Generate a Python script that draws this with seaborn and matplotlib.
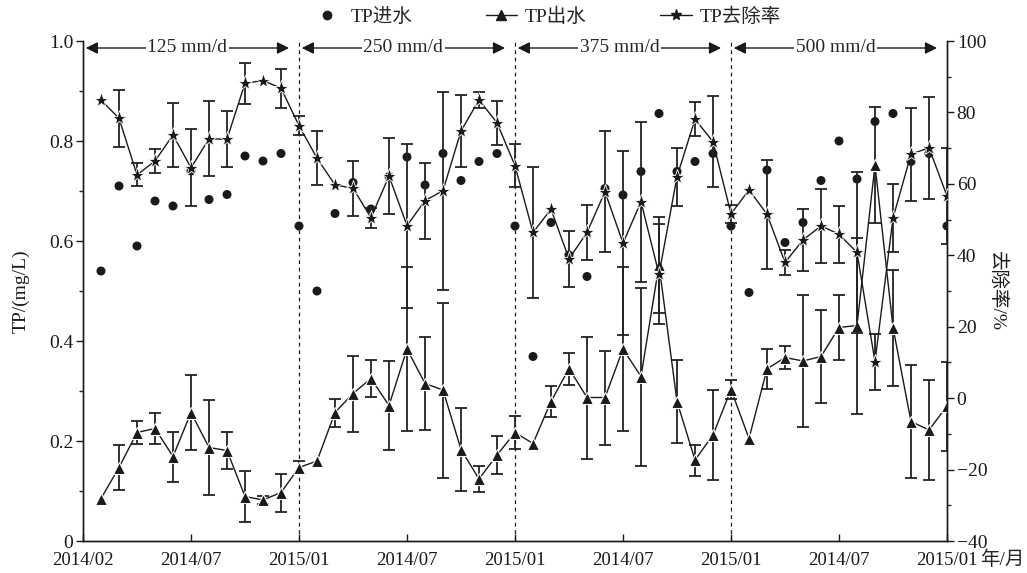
import numpy as np
import pandas as pd
import matplotlib
matplotlib.use("Agg")
import matplotlib.pyplot as plt
from matplotlib.lines import Line2D
from matplotlib.ticker import MultipleLocator
import seaborn as sns

# ---------------- data ----------------
months = list(range(1, 49))
phase_labels = ["125 mm/d", "250 mm/d", "375 mm/d", "500 mm/d"]
tick_pos = [0, 6, 12, 18, 24, 30, 36, 42, 48]
tick_labels = ["2014/02", "2014/07", "2015/01", "2014/07", "2015/01",
               "2014/07", "2015/01", "2014/07", "2015/01"]

tp_in = [0.54, 0.71, 0.59, 0.68, 0.67, 0.74, 0.683, 0.693, 0.77, 0.76, 0.775, 0.63,
         0.50, 0.655, 0.717, 0.664, 0.729, 0.768, 0.712, 0.775, 0.721, 0.759, 0.775, 0.63,
         0.369, 0.637, 0.572, 0.529, 0.705, 0.692, 0.739, 0.855, 0.739, 0.759, 0.775, 0.63,
         0.497, 0.742, 0.597, 0.637, 0.721, 0.80, 0.724, 0.839, 0.855, 0.759, 0.775, 0.63]

tp_out = [0.085, 0.147, 0.217, 0.225, 0.169, 0.257, 0.187, 0.181, 0.089, 0.082, 0.097, 0.147,
          0.160, 0.257, 0.295, 0.325, 0.271, 0.384, 0.315, 0.302, 0.183, 0.124, 0.172, 0.217,
          0.195, 0.279, 0.345, 0.287, 0.287, 0.384, 0.329, 0.552, 0.279, 0.162, 0.212, 0.303,
          0.205, 0.344, 0.367, 0.360, 0.369, 0.427, 0.431, 0.752, 0.427, 0.239, 0.222, 0.270]

tp_out_err = [0, 0.045, 0.023, 0.031, 0.05, 0.075, 0.095, 0.037, 0.051, 0.008, 0.038, 0.013,
              0, 0.028, 0.076, 0.037, 0.089, 0.164, 0.093, 0.175, 0.083, 0.026, 0.038, 0.033,
              0, 0.031, 0.032, 0.122, 0.094, 0.164, 0.178, 0.096, 0.083, 0.031, 0.09, 0.019,
              0, 0.04, 0.023, 0.132, 0.093, 0.065, 0.176, 0.116, 0.116, 0.113, 0.10, 0.089]

removal = [83.4, 78.4, 62.5, 66.4, 73.7, 64.5, 72.6, 72.5, 88.2, 88.9, 86.8, 76.3,
           67.2, 59.7, 58.8, 50.5, 62.2, 48.3, 55.3, 58.1, 74.8, 83.5, 77.1, 65.1,
           46.4, 52.9, 39.0, 46.4, 57.8, 43.4, 55.0, 34.7, 62.0, 78.1, 71.8, 51.6,
           58.3, 51.5, 38.0, 44.3, 48.2, 45.9, 40.8, 10.2, 50.4, 68.3, 70.1, 56.6]

removal_err = [0, 8.0, 3.2, 3.4, 9.0, 10.8, 10.5, 7.8, 5.7, 0, 5.5, 2.7,
               7.5, 0, 7.7, 2.8, 10.7, 23.0, 10.6, 27.7, 10.0, 2.2, 6.1, 6.0,
               18.4, 0, 7.9, 7.8, 16.9, 25.8, 22.4, 14.0, 8.1, 4.8, 12.8, 2.5,
               0, 15.2, 3.4, 8.6, 10.3, 8.0, 22.6, 7.8, 9.5, 13.0, 14.2, 13.5]

df = pd.DataFrame({"month": months, "tp_in": tp_in, "tp_out": tp_out,
                   "tp_out_err": tp_out_err, "removal": removal,
                   "removal_err": removal_err})

# ---------------- style ----------------
sns.set_theme(style="ticks")
plt.rcParams["font.family"] = ["Liberation Serif", "Noto Sans CJK SC"]
plt.rcParams["axes.unicode_minus"] = True
plt.rcParams["axes.linewidth"] = 1.0
FS = 14
XFS = 13.5

fig = plt.figure(figsize=(10.27, 5.73), dpi=100)
ax = fig.add_axes([83 / 1027, 32 / 573, 864 / 1027, 500 / 573])
ax2 = ax.twinx()

# phase separators
for xv in [12, 24, 36]:
    ax.axvline(xv, color="k", ls=(0, (3, 3)), lw=0.9, zorder=1)

# TP inflow (points)
sns.scatterplot(data=df, x="month", y="tp_in", ax=ax, color="k", marker="o",
                s=42, edgecolor="none", zorder=4, legend=False)

# TP outflow (line + error bars)
m_out = df[df.tp_out_err > 0]
ax.errorbar(m_out.month, m_out.tp_out, yerr=m_out.tp_out_err, fmt="none",
            ecolor="#222222", elinewidth=1.3, capsize=4, capthick=1.3, zorder=3)
sns.lineplot(data=df, x="month", y="tp_out", ax=ax, color="k", lw=1.0,
             marker="^", markersize=9, markeredgecolor="white",
             markeredgewidth=0.8, zorder=5, legend=False)

# removal rate (right axis)
m_rem = df[df.removal_err > 0]
ax2.errorbar(m_rem.month, m_rem.removal, yerr=m_rem.removal_err, fmt="none",
             ecolor="#222222", elinewidth=1.3, capsize=4, capthick=1.3, zorder=3)
sns.lineplot(data=df, x="month", y="removal", ax=ax2, color="k", lw=1.0,
             marker="*", markersize=11, markeredgecolor="white",
             markeredgewidth=0.6, zorder=5, legend=False)

# axes limits / ticks
ax.set_xlim(0, 48)
ax.set_ylim(0, 1.0)
ax2.set_ylim(-40, 100)
ax.set_xticks(tick_pos)
ax.set_xticklabels(tick_labels, fontsize=XFS)
ax.set_yticks([0, 0.2, 0.4, 0.6, 0.8, 1.0])
ax.set_yticklabels(["0", "0.2", "0.4", "0.6", "0.8", "1.0"], fontsize=FS)
ax.yaxis.set_minor_locator(MultipleLocator(0.1))
ax2.set_yticks(range(-40, 101, 20))
ax2.set_yticklabels([f"{v}".replace("-", "\u2212") for v in range(-40, 101, 20)],
                    fontsize=FS)
ax2.yaxis.set_minor_locator(MultipleLocator(10))

ax.tick_params(axis="x", direction="in", length=5, width=1, pad=8, colors="k")
ax.tick_params(axis="y", which="major", direction="out", length=5, width=1, pad=2, colors="k")
ax.tick_params(axis="y", which="minor", direction="out", length=3, width=1)
ax2.tick_params(axis="y", which="major", direction="out", length=5, width=1, pad=2, colors="k")
ax2.tick_params(axis="y", which="minor", direction="out", length=3, width=1)

for a in (ax, ax2):
    a.spines["top"].set_visible(False)
    for s in ("left", "right", "bottom"):
        a.spines[s].set_color("k")
    a.grid(False)

ax.set_xlabel("")
ax.set_ylabel("TP/(mg/L)", fontsize=FS, labelpad=14, color="k")
ax2.set_ylabel("去除率/%", fontsize=FS, rotation=270, labelpad=14, color="k")
fig.text(980 / 1027, 1 - 560 / 573, "年/月", fontsize=FS, ha="left", va="center")

# phase arrows and labels
for p, lab in enumerate(phase_labels):
    x0, x1 = p * 12 + 0.15, (p + 1) * 12 - 0.55
    ax.annotate("", xy=(x0, 0.986), xytext=(x1, 0.986),
                arrowprops=dict(arrowstyle="<|-|>", color="k", lw=1.0,
                                mutation_scale=18, shrinkA=0, shrinkB=0),
                annotation_clip=False, zorder=6)
    ax.text((x0 + x1) / 2, 0.986, lab, fontsize=FS, ha="center", va="center",
            bbox=dict(facecolor="white", edgecolor="none", pad=1.0), zorder=7)

# legend
handles = [
    Line2D([], [], color="k", marker="o", ls="none", markersize=6),
    Line2D([], [], color="k", marker="^", lw=1.0, markersize=7),
    Line2D([], [], color="k", marker="*", lw=1.0, markersize=8),
]
fig.legend(handles, ["TP进水", "TP出水", "TP去除率"], loc="center",
           bbox_to_anchor=(546 / 1027, 1 - 17 / 573), ncol=3, frameon=False,
           fontsize=FS, handlelength=1.6, handletextpad=0.4, columnspacing=3.8)

fig.savefig("out.png", dpi=100)
